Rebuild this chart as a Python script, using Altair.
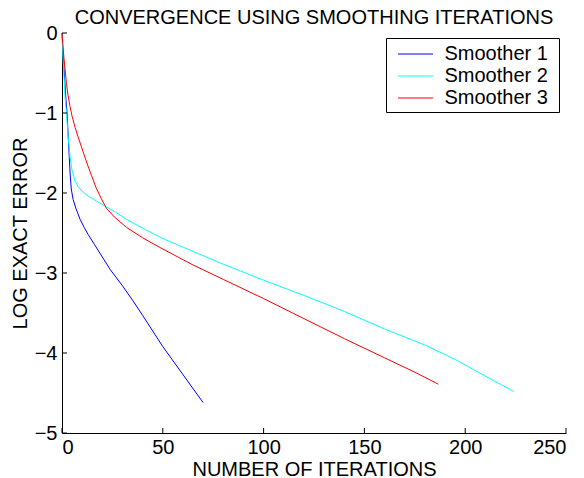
import altair as alt
import pandas as pd

# ---- data ----
series_names = ["Smoother 1", "Smoother 2", "Smoother 3"]
series_colors = ["#0000ff", "#00ffff", "#ff0000"]

blue_x = [0, 0.5, 1, 1.5, 2, 2.5, 3, 3.5, 4, 4.6, 5.5, 7, 9, 11, 13, 16, 20, 24, 30, 35, 40, 50, 60, 70]
blue_y = [0, -0.25, -0.45, -0.65, -0.85, -1.0, -1.25, -1.5, -1.75, -1.95, -2.08, -2.2, -2.33, -2.43,
          -2.52, -2.64, -2.8, -2.96, -3.16, -3.34, -3.53, -3.92, -4.27, -4.62]

cyan_x = [0, 0.5, 1, 1.5, 2.2, 3, 4, 5, 6.3, 8, 10, 13, 17, 21, 26, 32, 40, 50, 65, 80, 100, 120,
          140, 160, 180, 195, 210, 224]
cyan_y = [0, -0.3, -0.55, -0.8, -1.0, -1.28, -1.55, -1.72, -1.84, -1.92, -1.98, -2.04, -2.1, -2.16,
          -2.23, -2.33, -2.44, -2.57, -2.73, -2.89, -3.09, -3.28, -3.48, -3.7, -3.9, -4.08, -4.29, -4.48]

red_x = [0, 0.5, 1, 1.5, 2.2, 3, 4, 5, 6.5, 8, 10, 12, 14.6, 17, 19.5, 22, 26, 32, 40, 48.5, 65, 80,
         100, 120, 140, 160, 175, 186.7]
red_y = [0, -0.17, -0.32, -0.45, -0.63, -0.78, -0.92, -1.04, -1.18, -1.3, -1.45, -1.6, -1.78, -1.94,
         -2.07, -2.19, -2.3, -2.43, -2.56, -2.68, -2.9, -3.08, -3.32, -3.57, -3.82, -4.06, -4.24, -4.39]

x_ticks = [0, 50, 100, 150, 200, 250]
y_ticks = [-5, -4, -3, -2, -1, 0]

title_text = "CONVERGENCE USING SMOOTHING ITERATIONS"
x_title = "NUMBER OF ITERATIONS"
y_title = "LOG EXACT ERROR"

# ---- tables ----
frames = []
for name, xs, ys in zip(series_names, [blue_x, cyan_x, red_x], [blue_y, cyan_y, red_y]):
    frames.append(pd.DataFrame({"x": xs, "y": ys, "series": name, "order": range(len(xs))}))
df = pd.concat(frames, ignore_index=True)
xt = pd.DataFrame({"x": x_ticks})
yt = pd.DataFrame({"y": y_ticks})
legend_box = pd.DataFrame({"box": [1]})

FONT = "Liberation Sans"
W, H = 504, 400

xscale = alt.Scale(domain=[0, 250], nice=False, zero=False)
yscale = alt.Scale(domain=[-5, 0], nice=False, zero=False)

lines = alt.Chart(df).mark_line(strokeWidth=1).encode(
    x=alt.X("x:Q", scale=xscale,
            axis=alt.Axis(values=x_ticks, format="d", title=x_title, grid=False, ticks=False,
                          tickSize=0, labelPadding=4, domainColor="#000", labelColor="#000",
                          labelFontSize=20, labelFont=FONT, titleFont=FONT, titleFontSize=20,
                          titleFontWeight="normal", titleColor="#000",
                          titleX=W / 2, titleY=42, titleBaseline="alphabetic", titleAlign="center")),
    y=alt.Y("y:Q", scale=yscale,
            axis=alt.Axis(values=y_ticks, format="d", title=y_title, grid=False, ticks=False,
                          tickSize=0, labelPadding=5, domainColor="#000", labelColor="#000",
                          labelFontSize=20, labelFont=FONT, titleFont=FONT, titleFontSize=20,
                          titleFontWeight="normal", titleColor="#000",
                          titleX=-42, titleY=H / 2, titleAngle=-90,
                          titleBaseline="middle", titleAlign="center")),
    color=alt.Color("series:N",
                    scale=alt.Scale(domain=series_names, range=series_colors),
                    legend=alt.Legend(title=None, orient="none", legendX=324.5, legendY=6,
                                      padding=4, rowPadding=1, symbolType="M-1.75,0H1.75",
                                      symbolSize=400, symbolStrokeWidth=1.2, symbolOffset=14,
                                      labelOffset=18, labelFontSize=20, labelFont=FONT,
                                      labelColor="#000")),
    order="order:Q",
)

# legend frame (MATLAB-style box around the legend)
legend_frame = alt.Chart(legend_box).mark_rect(fill="#fff", stroke="#000", strokeWidth=1).encode(
    x=alt.value(324.5), x2=alt.value(497.5), y=alt.value(5.5), y2=alt.value(79.5))

xtick_rules = alt.Chart(xt).mark_rule(color="#000", strokeWidth=1).encode(
    x=alt.X("x:Q", scale=xscale), y=alt.value(H), y2=alt.value(H - 5))
ytick_rules = alt.Chart(yt).mark_rule(color="#000", strokeWidth=1).encode(
    y=alt.Y("y:Q", scale=yscale), x=alt.value(0), x2=alt.value(5))

chart = alt.layer(lines, legend_frame, xtick_rules, ytick_rules).properties(
    width=W, height=H,
    title=alt.Title(title_text, font=FONT, fontSize=20, fontWeight="normal", color="#000",
                    anchor="middle", frame="group", offset=0, dy=5),
    autosize=alt.AutoSizeParams(type="none"),
    padding={"left": 62, "top": 33, "right": 18, "bottom": 45},
    background="white",
).configure_view(stroke=None)

chart.save("out.html", embed_options={"renderer": "svg", "actions": False})
